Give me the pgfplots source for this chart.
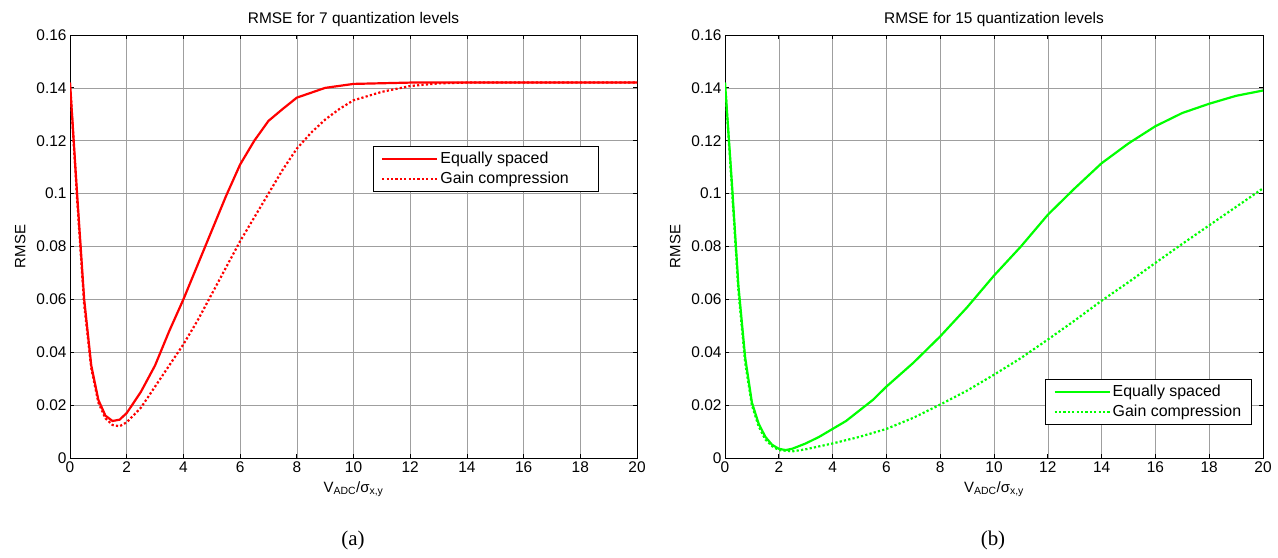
\documentclass[border=0pt]{standalone}
\usepackage{pgfplots}
\pgfplotsset{compat=1.18}
\usepackage{fontspec}
\setmainfont{Liberation Sans}
\newfontfamily\seriffont{Liberation Serif}
\begin{document}
\begin{tikzpicture}
\useasboundingbox (0bp,0bp) rectangle (1278bp,-558bp);
\pgfplotsset{
  every axis/.append style={
    scale only axis, height=423bp, ymin=0, ymax=0.16, xmin=0, xmax=20,
    xtick={0,2,...,20}, ytick={0,0.02,...,0.16},
    grid=major, major grid style={gray!75, line width=0.6pt},
    tick align=inside, major tick length=4bp,
    axis line style={line width=0.8pt},
    tick style={line width=0.8pt, black},
    /pgf/number format/assume math mode=true,
    yticklabel style={/pgf/number format/fixed, /pgf/number format/precision=2},
    tick label style={font=\fontsize{15.5}{17}\selectfont},
    label style={font=\fontsize{15}{17}\selectfont},
    ylabel style={yshift=4bp},
    xlabel style={yshift=-2bp},
    title style={font=\fontsize{15.5}{17}\selectfont, yshift=-1bp},
    xlabel={V\textsubscript{ADC}/σ\textsubscript{x,y}},
    ylabel={RMSE},
    legend style={font=\fontsize{16}{18}\selectfont, draw=black, line width=0.8pt, inner xsep=8bp, inner ysep=4bp, row sep=3bp, legend cell align=left},
    legend image code/.code={\draw[#1] (0bp,0bp) -- (55bp,0bp);},
  }
}
\begin{axis}[at={(70bp,-35bp)}, anchor=north west, width=567bp,
  title={RMSE for 7 quantization levels},
  legend style={at={(0.534,0.738)}, anchor=north west}]
\addplot[red, line width=2.2bp] coordinates {
(0,0.142) (0.25,0.100) (0.5,0.060) (0.75,0.035) (1,0.022) (1.25,0.016) (1.5,0.014) (1.75,0.0145) (2,0.017) (2.5,0.025) (3,0.035) (3.5,0.048) (4,0.060) (4.5,0.073) (5,0.086) (5.5,0.099) (6,0.111) (6.5,0.120) (7,0.1275) (7.5,0.132) (8,0.1363) (9,0.1400) (10,0.1415) (12,0.1420) (14,0.1420) (16,0.1420) (18,0.1420) (20,0.1420)};
\addlegendentry{Equally spaced}
\addplot[red, line width=2.2bp, dash pattern=on 2.2bp off 2.2bp] coordinates {
(0,0.142) (0.25,0.098) (0.5,0.058) (0.75,0.034) (1,0.021) (1.25,0.015) (1.5,0.0125) (1.75,0.012) (2,0.0135) (2.5,0.019) (3,0.027) (3.5,0.035) (4,0.043) (4.5,0.052) (5,0.062) (5.5,0.072) (6,0.082) (6.5,0.091) (7,0.100) (7.5,0.109) (8,0.117) (8.5,0.123) (9,0.128) (9.5,0.132) (10,0.1353) (11,0.1385) (12,0.1407) (13,0.1417) (14,0.1420) (16,0.1420) (18,0.1420) (20,0.1420)};
\addlegendentry{Gain compression\hspace*{20bp}}
\end{axis}
\begin{axis}[at={(725bp,-35bp)}, anchor=north west, width=538bp,
  title={RMSE for 15 quantization levels},
  legend style={at={(0.595,0.187)}, anchor=north west}]
\addplot[green, line width=2.2bp] coordinates {
(0,0.142) (0.25,0.105) (0.5,0.065) (0.75,0.038) (1,0.021) (1.25,0.013) (1.5,0.008) (1.75,0.005) (2,0.0035) (2.25,0.003) (2.5,0.0035) (3,0.0055) (3.5,0.008) (4,0.011) (4.5,0.014) (5,0.018) (5.5,0.022) (6,0.027) (7,0.036) (8,0.046) (9,0.057) (10,0.069) (11,0.080) (12,0.092) (13,0.102) (14,0.1115) (15,0.119) (16,0.1255) (17,0.1305) (18,0.134) (19,0.137) (20,0.139)};
\addlegendentry{Equally spaced}
\addplot[green, line width=2.2bp, dash pattern=on 2.2bp off 2.2bp] coordinates {
(0,0.142) (0.25,0.103) (0.5,0.063) (0.75,0.036) (1,0.020) (1.25,0.012) (1.5,0.007) (1.75,0.0045) (2,0.003) (2.5,0.0025) (3,0.0033) (4,0.0055) (5,0.008) (6,0.011) (7,0.0152) (8,0.0202) (9,0.0255) (10,0.0315) (11,0.0378) (12,0.0448) (13,0.052) (14,0.0595) (15,0.0665) (16,0.0738) (17,0.081) (18,0.088) (19,0.095) (20,0.102)};
\addlegendentry{Gain compression}
\end{axis}
\node[font=\seriffont\fontsize{21}{24}\selectfont] at (353bp,-540bp) {(a)};
\node[font=\seriffont\fontsize{21}{24}\selectfont] at (993bp,-540bp) {(b)};
\end{tikzpicture}
\end{document}
